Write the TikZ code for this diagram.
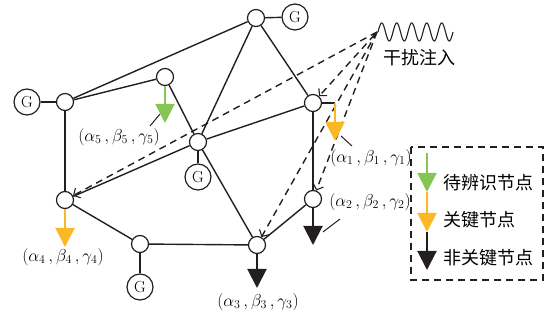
\documentclass[tikz,border=0pt]{standalone}
\usepackage{fontspec}
\newfontfamily\cjk{Noto Sans CJK SC}
\usetikzlibrary{arrows.meta}
\definecolor{kgreen}{RGB}{134,197,83}
\definecolor{korange}{RGB}{252,183,36}
\definecolor{kblack}{RGB}{35,31,32}
\begin{document}
\begin{tikzpicture}[x=1pt,y=-1pt,
  nd/.style={circle,draw=kblack,line width=1.2pt,fill=white,minimum size=17pt,inner sep=0pt},
  gen/.style={circle,draw=kblack,line width=1.2pt,fill=white,minimum size=26pt,inner sep=0pt,font=\fontsize{16}{16}\selectfont},
  edge/.style={draw=kblack,line width=1.4pt},
  inj/.style={draw=kblack,line width=1.4pt,dash pattern=on 7pt off 5pt,-{Straight Barb[length=5pt,width=11pt,line width=1.1pt]}},
  outg/.style={line width=2pt,-{Triangle[length=19pt,width=19pt]}},
  lead/.style={draw=kblack,line width=1pt},
  lab/.style={font=\fontsize{17}{17}\selectfont,inner sep=0pt},
  cn/.style={font=\fontsize{18}{18}\cjk,inner sep=0pt}
]
\useasboundingbox (0,0) rectangle (552,320);
% nodes
\node[nd] (ntop) at (256,18) {};
\node[gen] (gtop) at (295,17) {G};
\node[nd] (nleft) at (65,102) {};
\node[gen] (gleft) at (27,102) {G};
\node[nd] (n5) at (165,77) {};
\node[nd] (nc) at (198,142) {};
\node[gen] (gc) at (198,177) {G};
\node[nd] (n1) at (313,103) {};
\node[nd] (n2) at (313,199) {};
\node[nd] (n4) at (65,200) {};
\node[nd] (nb) at (140,244) {};
\node[gen] (gb) at (140,287) {G};
\node[nd] (n3) at (257,245) {};
\coordinate (S) at (377,32);
% edges
\draw[edge] (gtop) -- (ntop);
\draw[edge] (gleft) -- (nleft);
\draw[edge] (nleft) -- (ntop);
\draw[edge] (nleft) -- (n5);
\draw[edge] (n5) -- (nc);
\draw[edge] (ntop) -- (nc);
\draw[edge] (ntop) -- (n1);
\draw[edge] (nc) -- (n1);
\draw[edge] (nc) -- (gc);
\draw[edge] (nc) -- (n3);
\draw[edge] (nc) -- (n4);
\draw[edge] (nleft) -- (n4);
\draw[edge] (n4) -- (nb);
\draw[edge] (nb) -- (gb);
\draw[edge] (nb) -- (n3);
\draw[edge] (n3) -- (n2);
\draw[edge] (n1) -- (n2);
% injection
\draw[inj] (S) -- (n4);
\draw[inj,{Stealth[length=6pt,width=4pt]}-{Straight Barb[length=5pt,width=11pt,line width=1.1pt]}] (S) -- (n1);
\draw[inj] (S) -- (n3);
\draw[inj] (S) -- (n2);
\draw[line width=1.1pt,kblack] plot[domain=0:75,samples=150,smooth] ({\x+378},{32-9*sin(\x*24)});
\node[cn] (inject) at (419,58) {干扰注入};
% output arrows
\coordinate (t5) at (165,123);
\draw[outg,kgreen] (n5) -- (t5);
\coordinate (c1) at (335,103);
\coordinate (t1) at (335,141);
\draw[edge] (n1) -- (c1);
\draw[outg,korange] (c1) -- (t1);
\coordinate (t4) at (65,247);
\draw[outg,korange] (n4) -- (t4);
\coordinate (t3) at (257,288);
\draw[outg,kblack] (n3) -- (t3);
\coordinate (t2) at (313,245);
\draw[outg,kblack] (n2) -- (t2);
% labels
\node[lab] (l5) at (119,137) {$(\alpha_5\,,\beta_5\,,\gamma_5)$};
\node[lab] (l1) at (371,158) {$(\alpha_1\,,\beta_1\,,\gamma_1)$};
\node[lab] (l2) at (370,202) {$(\alpha_2\,,\beta_2\,,\gamma_2)$};
\node[lab] (l4) at (63,257) {$(\alpha_4\,,\beta_4\,,\gamma_4)$};
\node[lab] (l3) at (258,302) {$(\alpha_3\,,\beta_3\,,\gamma_3)$};
\coordinate (a5) at (150,126); \coordinate (b5) at (160,114);
\draw[lead] (a5) -- (b5);
\coordinate (a1) at (352,146); \coordinate (b1) at (341,136);
\draw[lead] (a1) -- (b1);
\coordinate (a2) at (340,219); \coordinate (b2) at (323,232);
\draw[lead] (a2) -- (b2);
% legend
\draw[kblack,line width=1.2pt,dash pattern=on 7pt off 5pt] (411,147) rectangle (543,280);
\coordinate (g0) at (427,153); \coordinate (g1) at (427,192);
\coordinate (o1) at (427,232); \coordinate (k1) at (427,270);
\draw[outg,kgreen] (g0) -- (g1);
\draw[outg,korange] (g1) -- (o1);
\draw[outg,kblack] (o1) -- (k1);
\node[cn,anchor=west] (lg1) at (443,183) {待辨识节点};
\node[cn,anchor=west] (lg2) at (443,220) {关键节点};
\node[cn,anchor=west] (lg3) at (443,258) {非关键节点};
\end{tikzpicture}
\end{document}
